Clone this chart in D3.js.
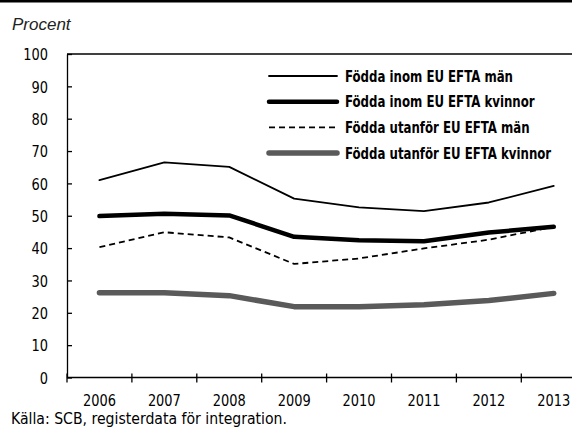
<!DOCTYPE html>
<html lang="sv">
<head>
    <meta charset="UTF-8">
    <title>Förvärvsfrekvens</title>
    <script src="https://d3js.org/d3.v7.min.js"></script>
    <style>
        body { margin: 0; background: white; }
        svg { display: block; }
        text { font-family: "DejaVu Sans Condensed", "DejaVu Sans", sans-serif; font-stretch: condensed; fill: black; }
        .ylab { font-family: "Liberation Sans", Arial, sans-serif; font-stretch: normal; font-style: italic; font-size: 17px; fill: #222; }
        .legend text { font-weight: bold; font-size: 15.5px; }
        .axis text { font-size: 16px; }
        .axis path, .axis line { stroke: black; stroke-width: 1.3px; }
    </style>
</head>
<body>
    <svg width="572" height="436"></svg>

    <script>
        // data
        const years = ["2006", "2007", "2008", "2009", "2010", "2011", "2012", "2013"];
        const inomMan = [61.0, 66.5, 65.1, 55.3, 52.6, 51.4, 54.1, 59.2];
        const inomKvinnor = [49.9, 50.6, 50.1, 43.5, 42.4, 42.1, 44.8, 46.6];
        const utanforMan = [40.3, 44.9, 43.3, 35.1, 36.8, 39.9, 42.6, 46.6];
        const utanforKvinnor = [26.2, 26.2, 25.3, 21.9, 21.9, 22.5, 23.8, 26.0];
        const yTicks = [0, 10, 20, 30, 40, 50, 60, 70, 80, 90, 100];

        const series = [
            { name: "Födda inom EU EFTA män", values: inomMan, color: "#000", width: 1.8, dash: null },
            { name: "Födda inom EU EFTA kvinnor", values: inomKvinnor, color: "#000", width: 4.5, dash: null },
            { name: "Födda utanför EU EFTA män", values: utanforMan, color: "#000", width: 1.8, dash: "6,4" },
            { name: "Födda utanför EU EFTA kvinnor", values: utanforKvinnor, color: "#5a5a5a", width: 5.5, dash: null }
        ];

        // the original font is narrower than anything installed: squeeze text a bit
        function squeeze(sel, f) {
            sel.each(function () {
                const w = this.getComputedTextLength();
                d3.select(this).attr("textLength", w * f).attr("lengthAdjust", "spacingAndGlyphs");
            });
        }

        const svg = d3.select("svg");
        const mLeft = 67, mTop = 54, mBottom = 377.5;

        // chart is wider than the window, last band gets cut off
        const x = d3.scaleBand().domain(years).range([mLeft, mLeft + 8 * 64.9]).padding(0);
        const y = d3.scaleLinear().domain([0, 100]).range([mBottom, mTop]);

        // black rule at the very top (cut-off header)
        svg.append("rect").attr("x", 0).attr("y", 0).attr("width", 572).attr("height", 2.5).attr("fill", "black");

        svg.append("text").attr("class", "ylab").attr("x", 12).attr("y", 29.5).text("Procent");

        // top frame line
        svg.append("line").attr("x1", mLeft).attr("x2", 572).attr("y1", mTop).attr("y2", mTop)
            .attr("stroke", "black").attr("stroke-width", 1.3);

        const yAxis = svg.append("g").attr("class", "axis")
            .attr("transform", `translate(${mLeft},0)`)
            .call(d3.axisLeft(y).tickValues(yTicks).tickSize(-5).tickPadding(19).tickSizeOuter(0));
        yAxis.selectAll("text").attr("dy", "0.36em");
        squeeze(yAxis.selectAll("text"), 0.9);

        const xAxis = svg.append("g").attr("class", "axis")
            .attr("transform", `translate(0,${mBottom})`)
            .call(d3.axisBottom(x).tickSize(0).tickPadding(17).tickSizeOuter(0));
        xAxis.select(".domain").attr("d", `M${mLeft},0H572`);
        squeeze(xAxis.selectAll("text"), 0.9);

        // ticks sit between the years, crossing the axis
        const edges = years.map(d => x(d)).concat([x(years[7]) + x.bandwidth()]);
        xAxis.selectAll(".edge").data(edges).enter().append("line")
            .attr("class", "edge")
            .attr("x1", d => d).attr("x2", d => d)
            .attr("y1", -4).attr("y2", 5);

        const line = d3.line()
            .x((d, i) => x(years[i]) + x.bandwidth() / 2)
            .y(d => y(d));

        // draw thin ones on top of thick ones
        const order = [3, 1, 2, 0];
        order.forEach(k => {
            const s = series[k];
            svg.append("path")
                .attr("d", line(s.values))
                .attr("fill", "none")
                .attr("stroke", s.color)
                .attr("stroke-width", s.width)
                .attr("stroke-linecap", s.dash ? "butt" : "round")
                .attr("stroke-linejoin", "round")
                .attr("stroke-dasharray", s.dash);
        });

        const legend = svg.append("g").attr("class", "legend");
        series.forEach((s, i) => {
            const ly = 76 + i * 25.7;
            legend.append("line")
                .attr("x1", 269).attr("x2", 337)
                .attr("y1", ly).attr("y2", ly)
                .attr("stroke", s.color)
                .attr("stroke-width", s.width)
                .attr("stroke-linecap", s.dash ? "butt" : "round")
                .attr("stroke-dasharray", s.dash);
            legend.append("text")
                .attr("x", 345).attr("y", ly).attr("dy", "0.36em")
                .text(s.name);
        });
        // first entry is about 168px wide in the original
        const w0 = legend.select("text").node().getComputedTextLength();
        squeeze(legend.selectAll("text"), 168 / w0);

        const source = svg.append("text").attr("x", 11).attr("y", 424).style("font-size", "16px")
            .text("Källa: SCB, registerdata för integration.");
        squeeze(source, 276 / source.node().getComputedTextLength());
    </script>
</body>
</html>
